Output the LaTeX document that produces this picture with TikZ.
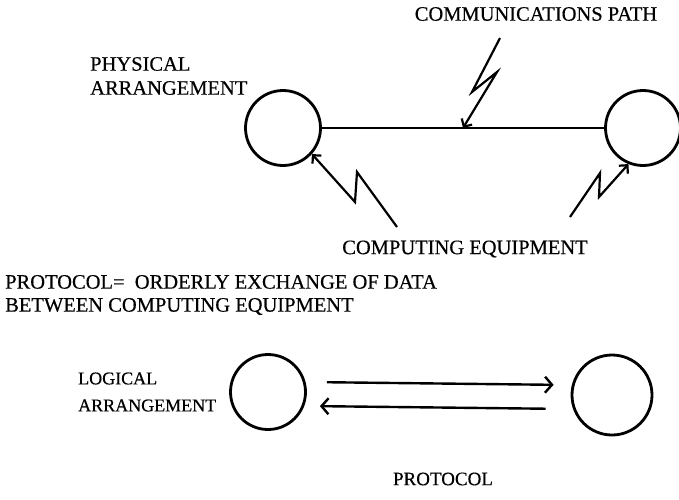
\documentclass[tikz,border=0pt]{standalone}
\usepackage{fontspec}
\setmainfont{Liberation Serif}[FakeBold=0.4]
\usetikzlibrary{arrows.meta}
\tikzset{
    station/.style={draw, circle, line width=2.8pt, minimum size=75pt, inner sep=0pt},
    caption/.style={font=\fontsize{20.5}{24}\selectfont, inner sep=0pt},
    caption-left/.style={caption, anchor=west, align=left},
    link/.style={line width=2.4pt},
    flow/.style={link, -{Straight Barb[length=7pt, width=16pt, line width=2.4pt]}},
    bolt/.style={line width=2.2pt, line join=miter, -{Straight Barb[length=6pt, width=12pt, line width=2.2pt]}}
}

\begin{document}
\begin{tikzpicture}[x=1pt, y=-1pt]
      \useasboundingbox (0,0) rectangle (679,499);

      % physical arrangement
      \node[station] (phys-a) at (283,128) {};
      \node[station] (phys-b) at (643,128) {};
      \draw[link] (phys-a) -- coordinate[pos=0.5] (path-hit) (phys-b);

      \node[caption] (comm-label) at (536,14) {COMMUNICATIONS PATH};
      \node[caption-left] (phys-label) at (90,76) {PHYSICAL\\ARRANGEMENT};
      \node[caption] (equip-label) at (465,249) {COMPUTING EQUIPMENT};

      \coordinate (bolt-top) at (500,38);
      \coordinate (bolt-left) at (397,227);
      \coordinate (bolt-right) at (570,217);
      \draw[bolt] (bolt-top) -- (472,92) -- (497,72) -- (path-hit);
      \draw[bolt] (bolt-left) -- (357,172) -- (355,202) -- (phys-a.-42);
      \draw[bolt] (bolt-right) -- (600,173) -- (599,197) -- (phys-b.-112);

      \node[caption-left, font=\fontsize{20.5}{23}\selectfont] (proto-def) at (5,295)
          {PROTOCOL=\ \ ORDERLY EXCHANGE OF DATA\\BETWEEN COMPUTING EQUIPMENT};

      % logical arrangement
      \node[caption-left, font=\fontsize{18}{27}\selectfont] (log-label) at (78,392) {LOGICAL\\ARRANGEMENT};
      \node[station] (log-a) at (268,392) {};
      \node[station, minimum size=80pt] (log-b) at (612,395) {};
      \draw[flow, shorten <=20pt, shorten >=17pt] ([yshift=10pt]log-a.east) -- ([yshift=10pt]log-b.west);
      \draw[flow, shorten <=25pt, shorten >=13pt] ([yshift=-14pt]log-b.west) -- ([yshift=-14pt]log-a.east);

      \node[caption, font=\fontsize{19}{23}\selectfont] (proto-label) at (443,479) {PROTOCOL};
\end{tikzpicture}
\end{document}
